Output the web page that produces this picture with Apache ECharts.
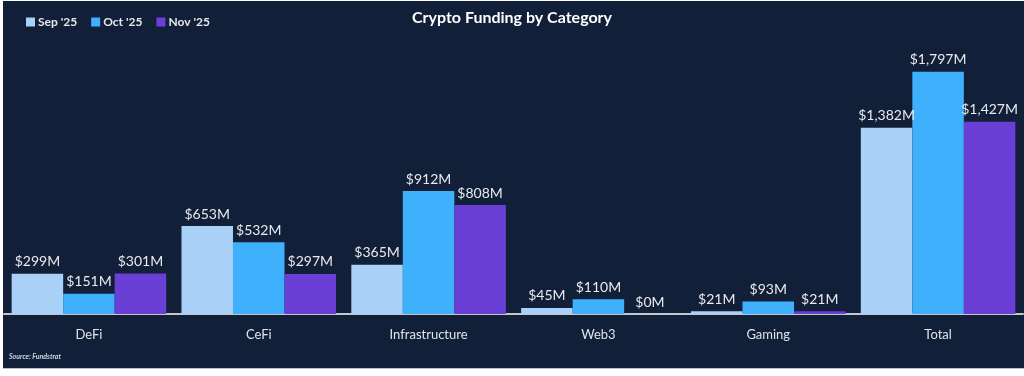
<!DOCTYPE html>
<html>
<head>
<meta charset="utf-8">
<script src="https://cdn.jsdelivr.net/npm/echarts@6/dist/echarts.min.js"></script>
<style>
  html, body { margin: 0; padding: 0; background: #ffffff; }
  #panel {
    position: absolute; left: 3px; top: 1px; width: 1021px; height: 367px;
    background: #121f38; border-bottom: 1px solid #b8c0cc;
  }
  #chart { position: absolute; left: 0; top: 0; width: 1024px; height: 376px; }
</style>
</head>
<body>
<div id="panel"></div>
<div id="chart"></div>
<script>
// 分类和三个月的数据（单位：百万美元）
const categories = ['DeFi', 'CeFi', 'Infrastructure', 'Web3', 'Gaming', 'Total'];
const months = ["Sep '25", "Oct '25", "Nov '25"];
const sepData = [299, 653, 365, 45, 21, 1382];
const octData = [151, 532, 912, 110, 93, 1797];
const novData = [301, 297, 808, 0, 21, 1427];
const colors = ['#a9d0f6', '#3fb0fb', '#6a3fd5'];

const chart = echarts.init(document.getElementById('chart'));

// 标签格式：$1,382M
const fmt = p => '$' + p.value.toLocaleString('en-US') + 'M';

const makeSeries = (name, data, color) => ({
  name: name,
  type: 'bar',
  data: data,
  barGap: '0%',
  barCategoryGap: '9%',
  itemStyle: { color: color },
  label: {
    show: true,
    position: 'top',
    distance: 5,
    formatter: fmt,
    color: '#e8eaee',
    fontFamily: 'Lato',
    fontSize: 14
  }
});

const option = {
  animation: false,
  title: {
    text: 'Crypto Funding by Category',
    left: 'center',
    top: 5,
    textStyle: { color: '#ffffff', fontFamily: 'Lato', fontWeight: 'bold', fontSize: 16 }
  },
  legend: {
    data: months,
    left: 21,
    top: 11,
    icon: 'rect',
    itemWidth: 9,
    itemHeight: 9,
    itemGap: 14,
    textStyle: { color: '#e6e8ec', fontFamily: 'Lato', fontSize: 12, fontWeight: 'bold', padding: [0, 0, 0, -2] }
  },
  graphic: [{
    type: 'text',
    left: 9,
    top: 353,
    style: {
      text: 'Source: Fundstrat',
      fill: '#d0d4dc',
      font: 'italic bold 7px Lato'
    }
  }],
  grid: { left: 4, right: 1, top: 31, bottom: 62 },
  xAxis: {
    type: 'category',
    data: categories,
    axisLine: { lineStyle: { color: '#c4c8ce', width: 2 } },
    axisTick: { show: false },
    axisLabel: { color: '#e0e3e8', fontFamily: 'Lato', fontSize: 13, margin: 14 }
  },
  yAxis: {
    type: 'value',
    min: 0,
    max: 2100,
    show: false,
    splitLine: { show: false }
  },
  series: [
    makeSeries(months[0], sepData, colors[0]),
    makeSeries(months[1], octData, colors[1]),
    makeSeries(months[2], novData, colors[2])
  ]
};

chart.setOption(option);
</script>
</body>
</html>
